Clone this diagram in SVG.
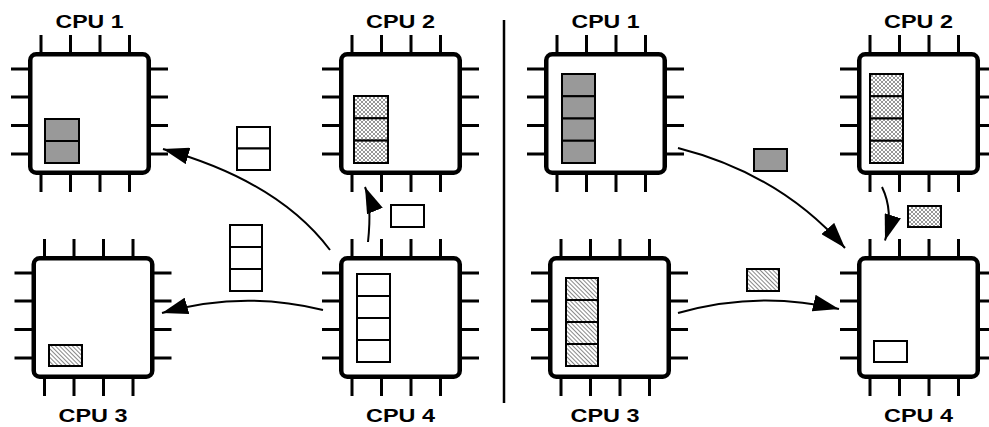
<svg xmlns="http://www.w3.org/2000/svg" xmlns:xlink="http://www.w3.org/1999/xlink" width="989" height="427" viewBox="0 0 989 427">
<style>
.pin{stroke:#000;stroke-width:3;fill:none}
.body{fill:#fff;stroke:#000;stroke-width:4.5}
.cell{stroke:#000;stroke-width:2}
.gray{fill:#999}
.xh{fill:url(#crosshatch)}
.dh{fill:url(#diaghatch)}
.empty{fill:#fff}
.arrow{fill:none;stroke:#000;stroke-width:2;marker-end:url(#ah)}
.label{font-family:"Liberation Sans",Arial,sans-serif;font-weight:bold;font-size:19px;text-anchor:middle;fill:#000}
.divider{stroke:#000;stroke-width:2.5}
</style>
<defs>
<pattern id="crosshatch" patternUnits="userSpaceOnUse" width="4" height="4">
<rect width="4" height="4" fill="#fff"/>
<path d="M0,0 L4,4 M4,0 L0,4" stroke="#6a6a6a" stroke-width="0.7"/>
</pattern>
<pattern id="diaghatch" patternUnits="userSpaceOnUse" width="3" height="3" patternTransform="rotate(45)">
<rect width="3" height="3" fill="#fff"/>
<line x1="0" y1="1.5" x2="3" y2="1.5" stroke="#7a7a7a" stroke-width="0.9"/>
</pattern>
<marker id="ah" markerUnits="userSpaceOnUse" markerWidth="26" markerHeight="17" refX="26" refY="8.5" orient="auto">
<path d="M0,0 L26,8.5 L0,17 z" fill="#000"/>
</marker>
<g id="chip">
<path class="pin" d="M13,-17V4 M42.5,-17V4 M72,-17V4 M101.5,-17V4 M13,119V140 M42.5,119V140 M72,119V140 M101.5,119V140 M-17,17H4 M-17,45H4 M-17,73.5H4 M-17,102H4 M119,17H140 M119,45H140 M119,73.5H140 M119,102H140"/>
<rect class="body" x="2.25" y="2.25" width="118.5" height="118.5" rx="6"/>
</g>
</defs>
<rect width="989" height="427" fill="#fff"/>

<line class="divider" x1="504" y1="20" x2="504" y2="403"/>

<g id="left-cpu1">
<use xlink:href="#chip" x="28" y="52"/>
<text class="label" x="89.5" y="28" textLength="68" lengthAdjust="spacingAndGlyphs">CPU 1</text>
<rect class="cell gray" x="45" y="119" width="34" height="22"/>
<rect class="cell gray" x="45" y="141" width="34" height="22"/>
</g>
<g id="left-cpu2">
<use xlink:href="#chip" x="339" y="52"/>
<text class="label" x="400.5" y="28" textLength="69" lengthAdjust="spacingAndGlyphs">CPU 2</text>
<rect class="cell xh" x="354" y="96" width="34" height="22.3"/>
<rect class="cell xh" x="354" y="118.3" width="34" height="22.3"/>
<rect class="cell xh" x="354" y="140.6" width="34" height="22.4"/>
</g>
<g id="left-cpu3">
<use xlink:href="#chip" x="31.5" y="256"/>
<text class="label" x="93" y="421.5" textLength="69" lengthAdjust="spacingAndGlyphs">CPU 3</text>
<rect class="cell dh" x="49" y="345" width="33" height="21"/>
</g>
<g id="left-cpu4">
<use xlink:href="#chip" x="339" y="256"/>
<text class="label" x="400.5" y="421.5" textLength="69" lengthAdjust="spacingAndGlyphs">CPU 4</text>
<rect class="cell empty" x="357" y="274" width="33" height="22"/>
<rect class="cell empty" x="357" y="296" width="33" height="22"/>
<rect class="cell empty" x="357" y="318" width="33" height="22"/>
<rect class="cell empty" x="357" y="340" width="33" height="22"/>
</g>

<g id="left-packets">
<rect class="cell empty" x="237" y="127" width="33" height="21.5"/>
<rect class="cell empty" x="237" y="148.5" width="33" height="21.5"/>
<rect class="cell empty" x="230" y="225" width="32" height="22"/>
<rect class="cell empty" x="230" y="247" width="32" height="22"/>
<rect class="cell empty" x="230" y="269" width="32" height="22"/>
<rect class="cell empty" x="391" y="205" width="33" height="22"/>
</g>

<g id="right-cpu1">
<use xlink:href="#chip" x="544" y="52"/>
<text class="label" x="605.5" y="28" textLength="68" lengthAdjust="spacingAndGlyphs">CPU 1</text>
<rect class="cell gray" x="562" y="74" width="33" height="22.25"/>
<rect class="cell gray" x="562" y="96.25" width="33" height="22.25"/>
<rect class="cell gray" x="562" y="118.5" width="33" height="22.25"/>
<rect class="cell gray" x="562" y="140.75" width="33" height="22.25"/>
</g>
<g id="right-cpu2">
<use xlink:href="#chip" x="857" y="52"/>
<text class="label" x="918.5" y="28" textLength="69" lengthAdjust="spacingAndGlyphs">CPU 2</text>
<rect class="cell xh" x="870" y="74" width="33" height="22.25"/>
<rect class="cell xh" x="870" y="96.25" width="33" height="22.25"/>
<rect class="cell xh" x="870" y="118.5" width="33" height="22.25"/>
<rect class="cell xh" x="870" y="140.75" width="33" height="22.25"/>
</g>
<g id="right-cpu3">
<use xlink:href="#chip" x="548" y="256"/>
<text class="label" x="605" y="421.5" textLength="69" lengthAdjust="spacingAndGlyphs">CPU 3</text>
<rect class="cell dh" x="566" y="278" width="32" height="22"/>
<rect class="cell dh" x="566" y="300" width="32" height="22"/>
<rect class="cell dh" x="566" y="322" width="32" height="22"/>
<rect class="cell dh" x="566" y="344" width="32" height="22"/>
</g>
<g id="right-cpu4">
<use xlink:href="#chip" x="857" y="256"/>
<text class="label" x="918.5" y="421.5" textLength="69" lengthAdjust="spacingAndGlyphs">CPU 4</text>
<rect class="cell empty" x="874" y="341" width="33" height="21"/>
</g>

<g id="right-packets">
<rect class="cell gray" x="754" y="149" width="33" height="22"/>
<rect class="cell xh" x="908" y="206" width="33" height="21"/>
<rect class="cell dh" x="747" y="269" width="32" height="22"/>
</g>

<g id="connectors">
<path class="arrow" d="M330,250 Q278,181 163,149"/>
<path class="arrow" d="M323,310 Q242,290 162,313"/>
<path class="arrow" d="M368,242 Q372,204 365,187"/>
<path class="arrow" d="M678,148 Q780,174 845,248"/>
<path class="arrow" d="M678,313 Q758,290 839,309"/>
<path class="arrow" d="M882,187 Q894,212 885,240.5"/>
</g>
</svg>
